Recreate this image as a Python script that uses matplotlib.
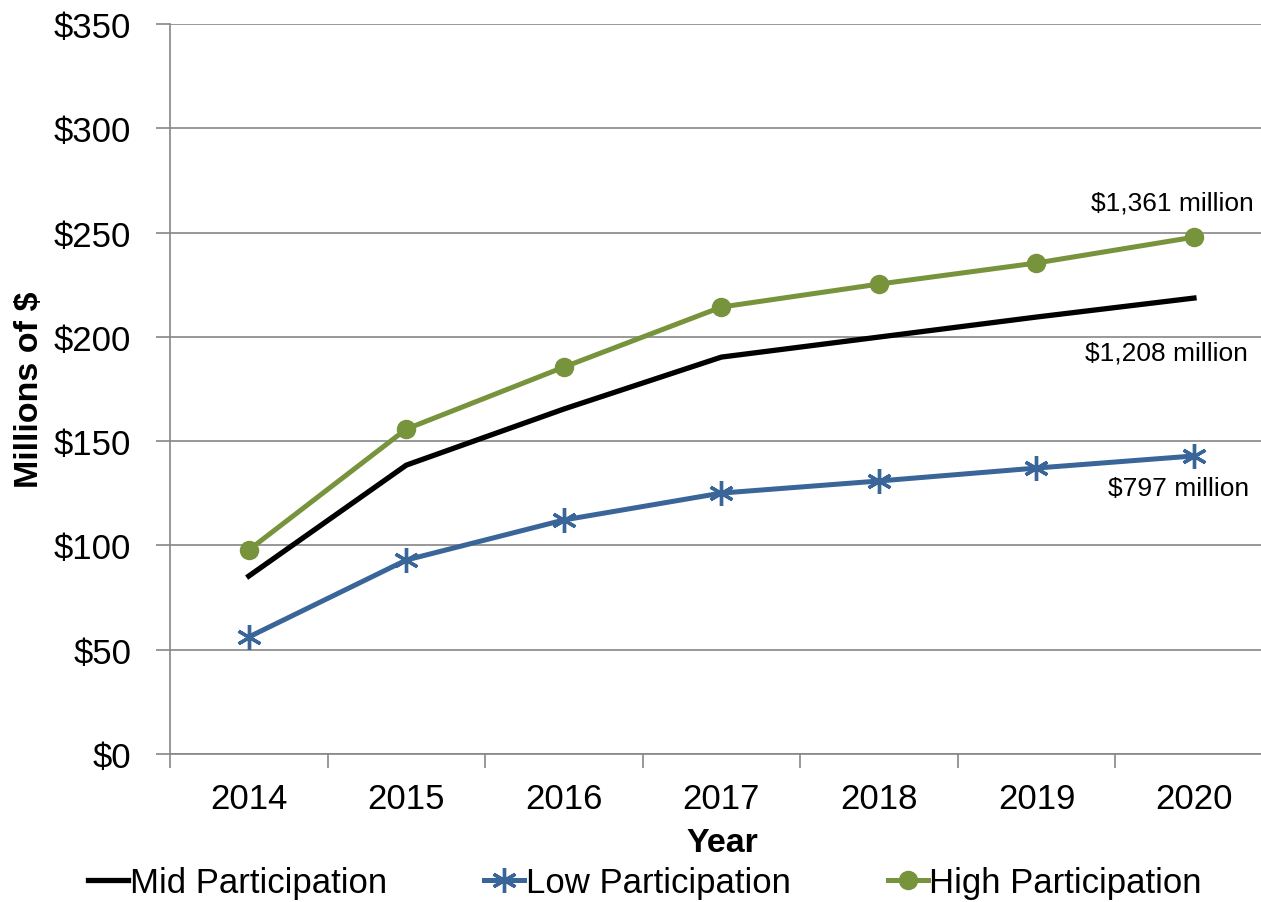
import matplotlib.pyplot as plt

# Chart data (millions of $)
years = ["2014", "2015", "2016", "2017", "2018", "2019", "2020"]
mid_participation = [85.3, 138.5, 165.4, 190.3, 199.9, 209.5, 218.6]
low_participation = [56.1, 93.0, 112.2, 125.1, 130.9, 137.1, 142.9]
high_participation = [97.8, 155.8, 185.5, 214.3, 225.3, 235.4, 247.8]

totals = ["$1,361 million", "$1,208 million", "$797 million"]

y_ticks = [0, 50, 100, 150, 200, 250, 300, 350]
y_tick_labels = ["$" + str(v) for v in y_ticks]

plt.rcParams['font.family'] = ['Liberation Sans', 'DejaVu Sans']

fig = plt.figure(figsize=(12.61, 9.03), dpi=100)
ax = fig.add_axes([170 / 1261, 1 - 755 / 903, (1272.75 - 170) / 1261, 730 / 903])

x = list(range(len(years)))

ax.plot(x, mid_participation, color='black', lw=3.8, label='Mid Participation', zorder=3)
ax.plot(x, low_participation, color='#3a6599', lw=3.6, marker=(6, 2, 0), ms=18,
        mew=2.4, label='Low Participation', zorder=3)
ax.plot(x, high_participation, color='#77933c', lw=3.6, marker='o', ms=13,
        label='High Participation', zorder=3)

# totals next to the last points
ax.text(6.38, 264.6, totals[0], ha='right', va='center', fontsize=19)
ax.text(6.34, 192.7, totals[1], ha='right', va='center', fontsize=19)
ax.text(6.35, 127.5, totals[2], ha='right', va='center', fontsize=19)

ax.set_xlim(-0.5, len(years) - 0.5)
ax.set_ylim(0, 350)

ax.set_yticks(y_ticks)
ax.set_yticklabels(y_tick_labels, fontsize=25)
ax.set_xticks(x)
ax.set_xticklabels(years, fontsize=25)
ax.set_xticks([i - 0.5 for i in range(len(years) + 1)], minor=True)
ax.tick_params(axis='x', which='major', length=0, pad=20)
ax.tick_params(axis='x', which='minor', length=10, width=1.2, color='#868686')
ax.tick_params(axis='y', length=10, width=1.2, color='#868686', pad=18)

ax.grid(axis='y', color='#868686', lw=1.2)
ax.set_axisbelow(True)
for side in ['top', 'right']:
    ax.spines[side].set_visible(False)
for side in ['left', 'bottom']:
    ax.spines[side].set_color('#868686')
    ax.spines[side].set_linewidth(1.2)

ax.set_xlabel('Year', fontsize=24.5, fontweight='bold')
ax.xaxis.set_label_coords((722 - 170) / (1272.75 - 170), -(844 - 755) / 730)
ax.set_ylabel('Millions of $', fontsize=24.5, fontweight='bold')
ax.yaxis.set_label_coords(-(170 - 30) / (1272.75 - 170), 0.5)
ax.xaxis.label.set_va('center')
ax.yaxis.label.set_va('center')

fig.legend(loc='center', bbox_to_anchor=(645 / 1261, 1 - 884 / 903), ncol=3,
           frameon=False, fontsize=25, handlelength=1.15, handletextpad=0.05,
           columnspacing=2.8, markerscale=1.0)

fig.savefig('out.png', dpi=100)
